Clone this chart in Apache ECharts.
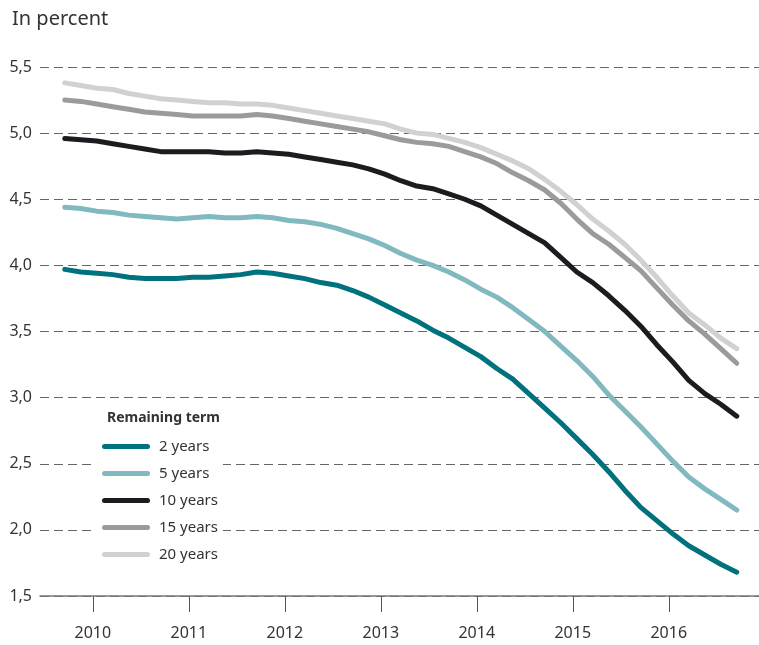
<!DOCTYPE html>
<html>
<head>
<meta charset="utf-8">
<script src="https://cdn.jsdelivr.net/npm/echarts@6/dist/echarts.min.js"></script>
<style>
  html, body { margin: 0; padding: 0; background: #fff; }
  #myChart { width: 759px; height: 645px; }
</style>
</head>
<body>
<div id="myChart"></div>
<script>
// bi-monthly observations, Sep 2009 .. Sep 2016
var startYear = 2009, startMonth = 9, stepMonths = 2
var yearTicks = [2010, 2011, 2012, 2013, 2014, 2015, 2016]
var seriesNames = ['2 years', '5 years', '10 years', '15 years', '20 years']

var y2 = [3.97, 3.95, 3.94, 3.93, 3.91, 3.90, 3.90, 3.90, 3.91, 3.91, 3.92, 3.93, 3.95, 3.94, 3.92,
  3.90, 3.87, 3.85, 3.81, 3.76, 3.70, 3.64, 3.58, 3.51, 3.45, 3.38, 3.31, 3.22, 3.14, 3.03,
  2.92, 2.81, 2.69, 2.57, 2.44, 2.30, 2.17, 2.07, 1.97, 1.88, 1.81, 1.74, 1.68]
var y5 = [4.44, 4.43, 4.41, 4.40, 4.38, 4.37, 4.36, 4.35, 4.36, 4.37, 4.36, 4.36, 4.37, 4.36, 4.34,
  4.33, 4.31, 4.28, 4.24, 4.20, 4.15, 4.09, 4.04, 4.00, 3.95, 3.89, 3.82, 3.76, 3.68, 3.59,
  3.50, 3.39, 3.28, 3.16, 3.02, 2.90, 2.78, 2.65, 2.52, 2.40, 2.31, 2.23, 2.15]
var y10 = [4.96, 4.95, 4.94, 4.92, 4.90, 4.88, 4.86, 4.86, 4.86, 4.86, 4.85, 4.85, 4.86, 4.85, 4.84,
  4.82, 4.80, 4.78, 4.76, 4.73, 4.69, 4.64, 4.60, 4.58, 4.54, 4.50, 4.45, 4.38, 4.31, 4.24,
  4.17, 4.06, 3.95, 3.87, 3.77, 3.66, 3.54, 3.40, 3.27, 3.13, 3.03, 2.95, 2.86]
var y15 = [5.25, 5.24, 5.22, 5.20, 5.18, 5.16, 5.15, 5.14, 5.13, 5.13, 5.13, 5.13, 5.14, 5.13, 5.11,
  5.09, 5.07, 5.05, 5.03, 5.01, 4.98, 4.95, 4.93, 4.92, 4.90, 4.86, 4.82, 4.77, 4.70, 4.64,
  4.57, 4.47, 4.35, 4.24, 4.16, 4.06, 3.96, 3.83, 3.70, 3.58, 3.48, 3.37, 3.26]
var y20 = [5.38, 5.36, 5.34, 5.33, 5.30, 5.28, 5.26, 5.25, 5.24, 5.23, 5.23, 5.22, 5.22, 5.21, 5.19,
  5.17, 5.15, 5.13, 5.11, 5.09, 5.07, 5.03, 5.00, 4.99, 4.96, 4.93, 4.89, 4.84, 4.79, 4.73,
  4.65, 4.56, 4.46, 4.35, 4.26, 4.16, 4.04, 3.91, 3.77, 3.64, 3.55, 3.45, 3.37]

var colors = ['#00727e', '#80b9c0', '#1b1b20', '#9b9b9b', '#d1d1d1']
var font = '"Noto Sans", "Open Sans", sans-serif'
// rounded bar used as legend key
var keyIcon = 'path://M2.5,0 L45.5,0 A2.5,2.5 0 0 1 45.5,5 L2.5,5 A2.5,2.5 0 0 1 2.5,0 Z'

// mid-month positions in decimal years
function xAt(i) {
  var m = startMonth - 1 + i * stepMonths
  return startYear + (m + 0.5) / 12
}
function pairs(vals) {
  return vals.map(function (v, i) { return [xAt(i), v] })
}

var myChart = echarts.init(document.getElementById('myChart'))
var allData = [y2, y5, y10, y15, y20]

var option = {
  animation: false,
  title: [{
    text: 'In percent',
    left: 7, top: 4,
    textStyle: { fontFamily: font, fontSize: 20, fontWeight: 'normal', color: '#333' }
  }, {
    text: 'Remaining term',
    left: 102, top: 406,
    textStyle: { fontFamily: font, fontSize: 14, fontWeight: 'bold', color: '#333' }
  }],
  grid: { left: 40, right: 0, top: 67, bottom: 49 },
  legend: {
    orient: 'vertical',
    left: 93, top: 436,
    padding: [3, 5, 3, 9],
    backgroundColor: '#fff',
    itemWidth: 48, itemHeight: 15, itemGap: 12,
    icon: keyIcon,
    symbolKeepAspect: true,
    textStyle: { fontFamily: font, fontSize: 15, color: '#333', padding: [0, 0, 0, 4] },
    data: seriesNames
  },
  xAxis: {
    type: 'value',
    min: 2009.45, max: 2016.94,
    axisLine: { lineStyle: { color: '#777', width: 1.5 } },
    axisTick: { show: true, length: 16, customValues: yearTicks, lineStyle: { color: '#555', width: 1 } },
    axisLabel: {
      customValues: yearTicks, margin: 29,
      fontFamily: font, fontSize: 16, color: '#333',
      formatter: function (v) { return String(Math.round(v)) }
    },
    splitLine: { show: false }
  },
  yAxis: {
    type: 'value',
    min: 1.5, max: 5.5, interval: 0.5,
    axisLine: { show: false },
    axisTick: { show: false },
    axisLabel: {
      margin: 8, fontFamily: font, fontSize: 16, color: '#333',
      formatter: function (v) { return v.toFixed(1).replace('.', ',') }
    },
    splitLine: { lineStyle: { color: '#666', width: 1.2, type: [9, 5] } }
  },
  series: seriesNames.map(function (name, k) {
    return {
      name: name,
      type: 'line',
      data: pairs(allData[k]),
      symbol: 'none',
      smooth: false,
      color: colors[k],
      itemStyle: { color: colors[k] },
      lineStyle: { width: 5, color: colors[k], cap: 'round', join: 'round' },
      z: 10 - k
    }
  })
}

window.onresize = myChart.resize
myChart.setOption(option)
</script>
</body>
</html>
